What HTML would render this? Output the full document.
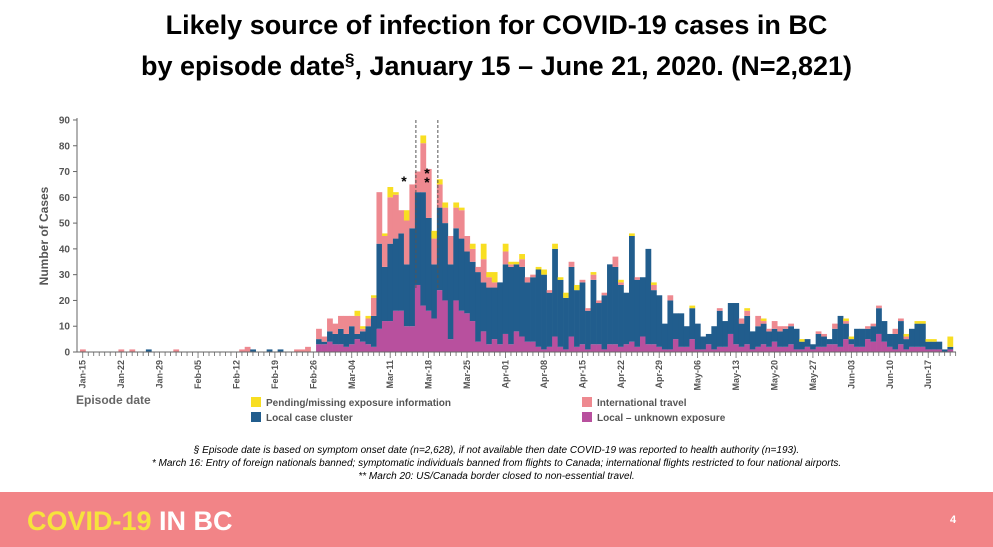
<!DOCTYPE html>
<html><head><meta charset="utf-8"><style>
body{margin:0;width:993px;height:547px;overflow:hidden;background:#fff;font-family:"Liberation Sans",Arial,sans-serif;position:relative}
.t{position:absolute;left:0;width:993px;text-align:center;font-weight:bold;font-size:27px;color:#000}
.fn{position:absolute;left:0;width:993px;text-align:center;font-style:italic;font-size:10px;color:#000}
</style></head><body>
<div class="t" style="top:10px">Likely source of infection for COVID-19 cases in BC</div>
<div class="t" style="top:50px">by episode date<sup style="font-size:17px">§</sup>, January 15 – June 21, 2020. (N=2,821)</div>
<svg id="chart" width="993" height="440" style="position:absolute;left:0;top:0" font-family="Liberation Sans, Arial, sans-serif"></svg>
<div class="fn" style="top:445px">§ Episode date is based on symptom onset date (n=2,628), if not available then date COVID-19 was reported to health authority (n=193).</div>
<div class="fn" style="top:458px">* March 16: Entry of foreign nationals banned; symptomatic individuals banned from flights to Canada; international flights restricted to four national airports.</div>
<div class="fn" style="top:471px">** March 20: US/Canada border closed to non-essential travel.</div>
<div style="position:absolute;left:0;top:492px;width:993px;height:55px;background:#f28487">
<div style="position:absolute;left:27px;top:14px;font-size:27px;font-weight:bold;color:#fff"><span style="color:#f6e33c">COVID-19</span> IN BC</div>
<div style="position:absolute;left:950px;top:22px;font-size:11px;font-weight:bold;color:#fff">4</div>
</div>
<script>
const tickLabels=["Jan-15","Jan-22","Jan-29","Feb-05","Feb-12","Feb-19","Feb-26","Mar-04","Mar-11","Mar-18","Mar-25","Apr-01","Apr-08","Apr-15","Apr-22","Apr-29","May-06","May-13","May-20","May-27","Jun-03","Jun-10","Jun-17"];
const yTicks=[0,10,20,30,40,50,60,70,80,90];
const unknownExp=[0,0,0,0,0,0,0,0,0,0,0,0,0,0,0,0,0,0,0,0,0,0,0,0,0,0,0,0,0,0,0,0,0,0,0,0,0,0,0,0,0,0,0,
3,3,4,3,3,2,3,5,4,3,2,9,12,12,16,16,10,10,26,18,16,13,24,20,5,20,16,15,12,4,8,3,5,3,7,
3,8,6,4,4,2,1,2,6,2,1,6,2,3,1,3,3,1,3,3,2,3,4,2,6,3,3,2,1,1,5,2,2,5,1,1,3,1,
2,2,7,3,2,3,1,2,3,2,4,2,2,3,1,1,2,1,2,2,3,3,2,5,3,2,2,5,4,7,4,2,1,3,1,2,2,2,1,1,1,0,1];
const localCluster=[0,0,0,0,0,0,0,0,0,0,0,0,1,0,0,0,0,0,0,0,0,0,0,0,0,0,0,0,0,0,0,1,0,0,1,0,1,0,0,0,0,0,0,
2,1,4,4,6,5,7,2,4,7,12,33,21,30,28,30,24,38,36,44,36,21,32,30,29,28,28,24,23,27,19,22,20,24,27,
30,26,27,23,25,30,29,21,34,26,20,27,22,24,15,25,16,21,31,30,24,20,41,26,23,37,21,20,10,19,10,13,8,12,10,5,4,9,
14,10,12,16,9,11,7,8,8,6,5,6,7,7,8,3,3,2,5,4,2,6,12,6,2,7,7,4,6,10,8,5,6,9,4,7,9,9,3,3,3,1,1];
const travel=[1,0,0,0,0,0,0,1,0,1,0,0,0,0,0,0,0,1,0,0,0,0,0,0,0,0,0,0,0,1,2,0,0,0,0,0,0,0,0,1,1,2,0,
4,2,5,4,5,7,4,7,1,3,7,20,12,18,17,9,17,17,8,19,19,10,9,6,11,8,11,6,5,2,9,4,2,0,5,
1,0,3,2,1,0,0,1,0,0,0,2,0,1,1,2,1,1,0,4,1,0,0,1,0,0,2,0,0,2,0,0,0,0,0,0,0,0,
1,0,0,0,2,2,0,4,1,1,3,2,1,1,0,0,0,0,1,1,0,2,0,1,0,0,0,1,1,1,0,0,2,1,1,0,0,0,0,0,0,0,0];
const pending=[0,0,0,0,0,0,0,0,0,0,0,0,0,0,0,0,0,0,0,0,0,0,0,0,0,0,0,0,0,0,0,0,0,0,0,0,0,0,0,0,0,0,0,
0,0,0,0,0,0,0,2,1,1,1,0,1,4,1,0,4,0,0,3,0,3,2,2,0,2,1,0,2,0,6,2,4,0,3,
1,1,2,0,0,1,2,0,2,1,2,0,2,0,0,1,0,0,0,0,1,0,1,0,0,0,1,0,0,0,0,0,0,1,0,0,0,0,
0,0,0,0,0,1,0,0,1,0,0,0,0,0,0,1,0,0,0,0,0,0,0,1,1,0,0,0,0,0,0,0,0,0,1,0,1,1,1,1,0,0,4];
const markerDays=[61,65];
const NS="http://www.w3.org/2000/svg";
const svg=document.getElementById('chart');
const X0=80,DW=5.49,Y0=352,YS=2.578;
const xS=i=>X0+i*DW, yS=v=>Y0-v*YS;
function mk(tag,a,p){const e=document.createElementNS(NS,tag);for(const k in a)e.setAttribute(k,a[k]);(p||svg).appendChild(e);return e;}
const series=[[unknownExp,'#b8509e','unknown'],[localCluster,'#215d8d','cluster'],[travel,'#ee8990','travel'],[pending,'#f8de22','pending']];
const n=localCluster.length;
for(let i=0;i<n;i++){let base=0;
 series.forEach(([arr,col,nm])=>{const v=arr[i]||0;if(v>0){
  const r=mk('rect',{x:xS(i),y:yS(base+v),width:DW+0.3,height:v*YS,fill:col});
  
  }
  base+=v;});}
// axes
const ya=mk('line',{x1:77,y1:118,x2:77,y2:Y0,stroke:'#666','stroke-width':1});

const xa=mk('line',{x1:77,y1:Y0,x2:956,y2:Y0,stroke:'#666','stroke-width':1});

yTicks.forEach(v=>{mk('line',{x1:73,y1:yS(v),x2:77,y2:yS(v),stroke:'#666'});
 const t=mk('text',{x:70,y:yS(v)+3.5,'text-anchor':'end','font-size':10,'font-weight':'bold',fill:'#555'});t.textContent=v;
 });
for(let i=0;i<=n;i++)mk('line',{x1:xS(i)+DW/2,y1:Y0,x2:xS(i)+DW/2,y2:Y0+(i%7==0?6:4),stroke:'#666','stroke-width':0.8});
tickLabels.forEach((l,k)=>{const x=xS(k*7)+DW/2+3;
 const t=mk('text',{x:0,y:0,transform:`translate(${x},${Y0+8}) rotate(-90)`,'text-anchor':'end','font-size':9,'font-weight':'bold',fill:'#555'});t.textContent=l;
 });
const yt=mk('text',{transform:'translate(48,236) rotate(-90)','text-anchor':'middle','font-size':12,'font-weight':'bold',fill:'#555'});yt.textContent='Number of Cases';

const xt=mk('text',{x:76,y:404,'font-size':12,'font-weight':'bold',fill:'#666'});xt.textContent='Episode date';

markerDays.forEach(d=>{const l=mk('line',{x1:xS(d)+1,y1:120,x2:xS(d)+1,y2:290,stroke:'#555','stroke-width':1,'stroke-dasharray':'3,2'});
 });
[[404,186,'*'],[427,178,'*'],[427,187,'*']].forEach(([x,y,s])=>{const t=mk('text',{x:x,y:y,'text-anchor':'middle','font-size':14,'font-weight':'bold',fill:'#000'});t.textContent=s;
 });
// legend
[[251,398,'#f8de22','Pending/missing exposure information','legend-pending'],[251,413,'#215d8d','Local case cluster','legend-cluster'],
 [582,398,'#ee8990','International travel','legend-travel'],[582,413,'#b8509e','Local – unknown exposure','legend-unknown']].forEach(([x,y,c,txt,nm])=>{
 const g=mk('g',{});
 mk('rect',{x:x,y:y-1,width:10,height:10,fill:c},g);
 const t=mk('text',{x:x+15,y:y+8,'font-size':10,'font-weight':'bold',fill:'#555'},g);t.textContent=txt;});
</script>
</body></html>
